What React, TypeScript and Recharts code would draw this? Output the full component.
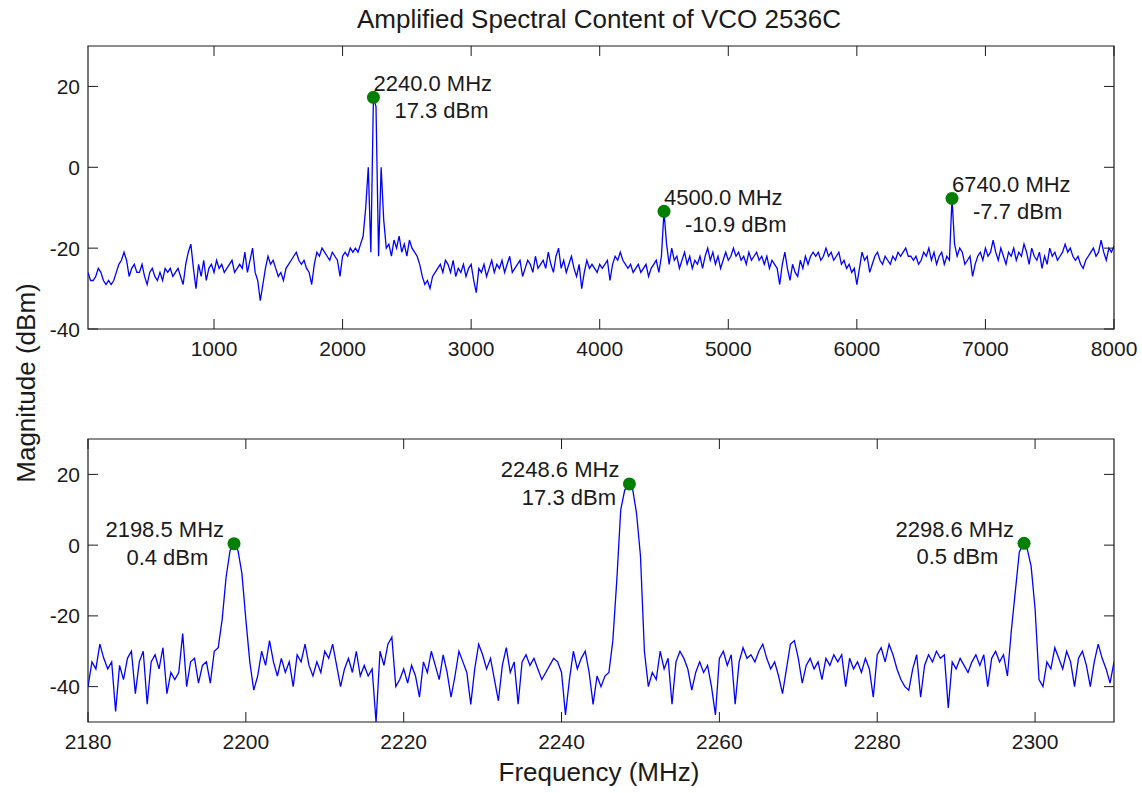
import { ComposedChart, Line, XAxis, YAxis, ReferenceArea, ReferenceDot } from 'recharts'

const TITLE = 'Amplified Spectral Content of VCO 2536C'
const X_LABEL = 'Frequency (MHz)'
const Y_LABEL = 'Magnitude (dBm)'

// full sweep, 20 MHz bins starting at 20 MHz
const wideStart = 20
const wideStep = 20
const wideMag = [
  -26, -28, -28, -27, -25, -26, -28, -29, -28, -29, -28, -26, -24, -23, -21, -23, -27, -25, -24, -26,
  -26, -24, -27, -29, -26, -25, -27, -28, -26, -28, -25, -26, -25, -27, -26, -25, -27, -29, -24, -21,
  -19, -25, -30, -24, -27, -23, -28, -25, -24, -26, -23, -25, -24, -26, -25, -24, -23, -26, -25, -24,
  -25, -21, -26, -23, -20, -26, -28, -33, -29, -25, -22, -24, -23, -25, -27, -26, -28, -25, -24, -23,
  -22, -21, -23, -24, -23, -25, -26, -29, -24, -21, -22, -20, -21, -22, -23, -21, -22, -23, -27, -22,
  -21, -22, -20, -21, -20, -21, -19, -17, -10, 0, -21, 17.3, 15, -22, 0, -13, -20, -19, -22, -18,
  -20, -17, -21, -19, -22, -18, -20, -21, -22, -24, -27, -29, -28, -30, -27, -26, -25, -24, -26, -23,
  -24, -26, -23, -27, -25, -26, -24, -27, -25, -24, -28, -31, -25, -26, -24, -27, -25, -23, -26, -24,
  -25, -23, -26, -24, -22, -26, -25, -24, -23, -27, -25, -23, -24, -26, -22, -25, -24, -23, -25, -21,
  -24, -26, -22, -20, -25, -23, -26, -24, -22, -25, -27, -24, -30, -26, -23, -25, -24, -25, -26, -24,
  -25, -24, -23, -28, -24, -22, -23, -21, -23, -24, -25, -24, -26, -25, -24, -26, -25, -24, -27, -25,
  -24, -23, -26, -22, -10.9, -19, -24, -20, -23, -22, -25, -23, -21, -24, -22, -25, -23, -24, -22, -25,
  -22, -20, -23, -21, -24, -22, -25, -23, -21, -23, -22, -20, -22, -21, -23, -22, -24, -21, -23, -22,
  -21, -23, -22, -24, -22, -25, -23, -24, -25, -29, -24, -21, -25, -28, -24, -26, -27, -23, -25, -22,
  -24, -22, -21, -22, -21, -23, -22, -20, -22, -21, -23, -22, -21, -24, -23, -25, -24, -26, -25, -29,
  -25, -21, -23, -22, -26, -24, -22, -21, -23, -24, -22, -23, -24, -22, -23, -21, -22, -21, -20, -22,
  -22, -23, -22, -24, -23, -21, -22, -20, -23, -21, -24, -22, -21, -24, -22, -23, -7.7, -19, -22, -20,
  -21, -24, -23, -22, -27, -24, -22, -21, -23, -20, -22, -21, -18, -21, -23, -20, -22, -24, -21, -22,
  -20, -23, -21, -22, -19, -21, -24, -20, -22, -23, -21, -25, -22, -24, -20, -22, -21, -23, -22, -21,
  -19, -21, -20, -22, -23, -22, -24, -25, -23, -22, -21, -20, -22, -21, -18, -21, -23, -20, -21, -19.5,
]
const wideXDomain = [20, 8000]
const wideYDomain = [-40, 30]
const wideXTicks = [1000, 2000, 3000, 4000, 5000, 6000, 7000, 8000]
const wideYTicks = [-40, -20, 0, 20]
const widePeaks = [
  { f: 2240, m: 17.3 },
  { f: 4500, m: -10.9 },
  { f: 6740, m: -7.7 },
]

// zoom around the carrier, 0.5 MHz bins starting at 2180 MHz
const zoomStart = 2180
const zoomStep = 0.5
const zoomMag = [
  -40, -33, -35, -28, -32, -35, -33, -47, -34, -38, -32, -30, -42, -33, -30, -45, -33, -31, -35, -29,
  -42, -36, -38, -36, -25, -40, -33, -32, -39, -34, -33, -39, -30, -29, -21, -9, -1.5, 0.4, -1.5, -8,
  -21, -33, -41, -37, -30, -34, -27, -33, -37, -32, -36, -33, -40, -31, -33, -28, -34, -37, -33, -36,
  -30, -32, -28, -34, -40, -35, -32, -36, -30, -37, -34, -37, -35, -50, -30, -34, -28, -26, -40, -38,
  -35, -39, -34, -37, -43, -33, -36, -30, -34, -38, -31, -36, -43, -37, -30, -33, -36, -45, -35, -28,
  -31, -35, -32, -38, -44, -34, -29, -36, -33, -45, -33, -31, -34, -32, -35, -38, -36, -34, -32, -33,
  -36, -48, -38, -30, -35, -32, -30, -36, -45, -37, -40, -37, -36, -27, -10, 10, 15.5, 17.3, 16, 9,
  -3, -30, -40, -36, -38, -30, -35, -32, -45, -33, -30, -32, -35, -41, -36, -33, -36, -34, -40, -48,
  -32, -30, -34, -31, -45, -33, -29, -32, -31, -33, -30, -28, -32, -35, -33, -37, -42, -35, -28, -27,
  -32, -39, -34, -32, -35, -33, -38, -32, -34, -31, -33, -31, -40, -32, -35, -33, -36, -32, -35, -43,
  -31, -29, -33, -28, -31, -35, -38, -40, -41, -35, -31, -43, -34, -31, -33, -30, -32, -31, -46, -33,
  -35, -32, -34, -36, -33, -31, -34, -31, -40, -32, -30, -33, -31, -37, -24, -13, -2, 0.5, -1, -6,
  -18, -38, -40, -33, -35, -29, -32, -35, -30, -33, -40, -32, -30, -34, -40, -33, -28, -32, -35, -39, -33,
]
const zoomXDomain = [2180, 2310]
const zoomYDomain = [-50, 30]
const zoomXTicks = [2180, 2200, 2220, 2240, 2260, 2280, 2300]
const zoomYTicks = [-40, -20, 0, 20]
const zoomPeaks = [
  { f: 2198.5, m: 0.4 },
  { f: 2248.6, m: 17.3 },
  { f: 2298.6, m: 0.5 },
]

const FONT = '"Liberation Sans", Arial, Helvetica, sans-serif'
const INK = '#1a1a1a'
const TRACE = '#0000ff'
const MARK = '#007f00'
const W = 1142
const PLOT_W = 1026
const PLOT_H = 283
const TICK = 10

const toRows = (start: number, step: number, mags: number[]) =>
  mags.map((m, i) => ({ f: start + i * step, m }))

function PeakMark({ cx, cy, f, m, side }: { cx: number; cy: number; f: number; m: number; side: 'right' | 'left' }) {
  const line1 = `${f.toFixed(1)} MHz`
  const line2 = `${m.toFixed(1)} dBm`
  // block is left aligned, second line indented; bottom panel places it left of the dot
  const x0 = side === 'right' ? cx : cx - 10 - 118.6
  return (
    <g>
      <circle cx={cx} cy={cy} r={6.5} fill={MARK} />
      <text x={x0} y={cy - 14} fontSize={22} fontFamily={FONT} fill={INK} dominantBaseline="central">
        {line1}
      </text>
      <text x={x0 + 21} y={cy + 13.5} fontSize={22} fontFamily={FONT} fill={INK} dominantBaseline="central">
        {line2}
      </text>
    </g>
  )
}

function XTick({ x, y, payload }: any) {
  return (
    <g>
      <line x1={x} x2={x} y1={y} y2={y - TICK} stroke={INK} />
      <line x1={x} x2={x} y1={y - PLOT_H} y2={y - PLOT_H + TICK} stroke={INK} />
      <text x={x} y={y + 19} textAnchor="middle" dominantBaseline="central" fontSize={21} fontFamily={FONT} fill={INK}>
        {payload.value}
      </text>
    </g>
  )
}

function YTick({ x, y, payload }: any) {
  return (
    <g>
      <line x1={x} x2={x + TICK} y1={y} y2={y} stroke={INK} />
      <line x1={x + PLOT_W} x2={x + PLOT_W - TICK} y1={y} y2={y} stroke={INK} />
      <text x={x - 8} y={y} textAnchor="end" dominantBaseline="central" fontSize={21} fontFamily={FONT} fill={INK}>
        {payload.value}
      </text>
    </g>
  )
}

interface PanelProps {
  rows: { f: number; m: number }[]
  xDomain: number[]
  yDomain: number[]
  xTicks: number[]
  yTicks: number[]
  peaks: { f: number; m: number }[]
  side: 'right' | 'left'
  height: number
  top: number
  axisHeight: number
}

function Panel({ rows, xDomain, yDomain, xTicks, yTicks, peaks, side, height, top, axisHeight }: PanelProps) {
  return (
    <ComposedChart width={W} height={height} data={rows} margin={{ top, right: 28, bottom: 0, left: 0 }}>
      <XAxis
        dataKey="f"
        type="number"
        domain={xDomain}
        ticks={xTicks}
        interval={0}
        allowDataOverflow
        height={axisHeight}
        axisLine={false}
        tickLine={false}
        tickSize={0}
        tickMargin={0}
        tick={<XTick />}
      />
      <YAxis
        type="number"
        domain={yDomain}
        ticks={yTicks}
        interval={0}
        allowDataOverflow
        width={88}
        axisLine={false}
        tickLine={false}
        tickSize={0}
        tickMargin={0}
        tick={<YTick />}
      />
      <Line dataKey="m" type="linear" stroke={TRACE} strokeWidth={1.3} dot={false} isAnimationActive={false} />
      <ReferenceArea
        x1={xDomain[0]}
        x2={xDomain[1]}
        y1={yDomain[0]}
        y2={yDomain[1]}
        fill="none"
        fillOpacity={0}
        stroke={INK}
        strokeWidth={1.2}
        ifOverflow="visible"
      />
      {peaks.map((p) => (
        <ReferenceDot
          key={p.f}
          x={p.f}
          y={p.m}
          r={6.5}
          ifOverflow="visible"
          shape={(props: any) => <PeakMark cx={props.cx} cy={props.cy} f={p.f} m={p.m} side={side} />}
        />
      ))}
    </ComposedChart>
  )
}

export default function App() {
  const wideRows = toRows(wideStart, wideStep, wideMag)
  const zoomRows = toRows(zoomStart, zoomStep, zoomMag)

  return (
    <div style={{ position: 'absolute', left: 0, top: 0, width: W, height: 793, background: '#fff', fontFamily: FONT }}>
      <div style={{ position: 'absolute', left: 0, top: 0 }}>
        <Panel
          rows={wideRows}
          xDomain={wideXDomain}
          yDomain={wideYDomain}
          xTicks={wideXTicks}
          yTicks={wideYTicks}
          peaks={widePeaks}
          side="right"
          height={380}
          top={46}
          axisHeight={51}
        />
      </div>
      <div style={{ position: 'absolute', left: 0, top: 380 }}>
        <Panel
          rows={zoomRows}
          xDomain={zoomXDomain}
          yDomain={zoomYDomain}
          xTicks={zoomXTicks}
          yTicks={zoomYTicks}
          peaks={zoomPeaks}
          side="left"
          height={413}
          top={59}
          axisHeight={71}
        />
      </div>
      <svg width={W} height={793} style={{ position: 'absolute', left: 0, top: 0, pointerEvents: 'none' }}>
        <text x={599} y={28} textAnchor="middle" fontSize={26} fontFamily={FONT} fill={INK}>
          {TITLE}
        </text>
        <text x={599} y={781} textAnchor="middle" fontSize={26} fontFamily={FONT} fill={INK}>
          {X_LABEL}
        </text>
        <text transform="translate(35,383) rotate(-90)" textAnchor="middle" fontSize={26} fontFamily={FONT} fill={INK}>
          {Y_LABEL}
        </text>
      </svg>
    </div>
  )
}
